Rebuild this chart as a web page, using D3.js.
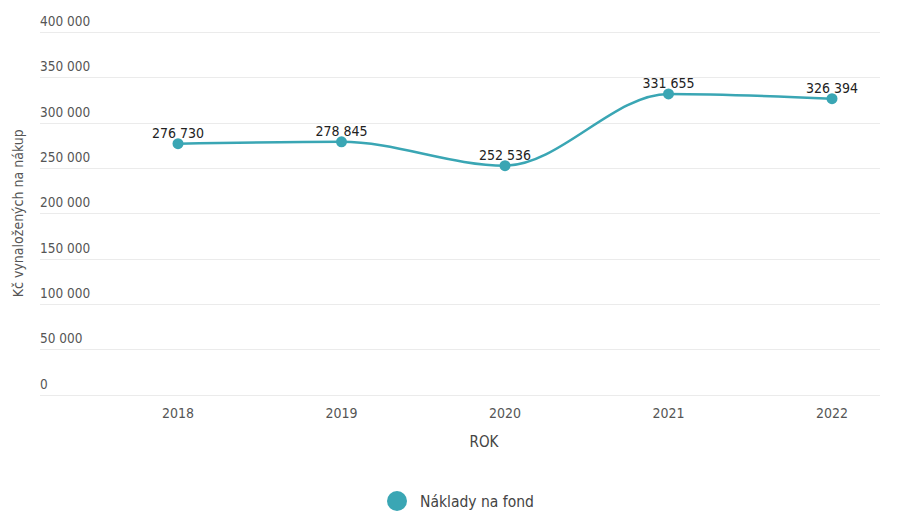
<!DOCTYPE html>
<html>
<head>
<meta charset="utf-8">
<script src="https://cdn.jsdelivr.net/npm/d3@7"></script>
<style>
  body { margin: 0; background: #fff; }
  svg text { font-family: "Liberation Sans Narrow", "DejaVu Sans Condensed", "Roboto", sans-serif; }
</style>
</head>
<body>
<div id="chart"></div>
<script>
// data
const years = ["2018", "2019", "2020", "2021", "2022"];
const costs = [276730, 278845, 252536, 331655, 326394];
const yTicks = [0, 50000, 100000, 150000, 200000, 250000, 300000, 350000, 400000];
const seriesName = "Náklady na fond";

const width = 906, height = 511;
const color = "#3aa6b4";

const locale = d3.formatLocale({ decimal: ",", thousands: " ", grouping: [3], currency: ["", " Kč"] });
const fmt = locale.format(",d");

const svg = d3.select("#chart").append("svg")
  .attr("width", width)
  .attr("height", height);

const x = d3.scalePoint()
  .domain(years)
  .range([178, 832]);

const y = d3.scaleLinear()
  .domain([0, 400000])
  .range([394.5, 32]);

// gridlines + tick labels
const grid = svg.append("g");
grid.selectAll("line")
  .data(yTicks)
  .enter()
  .append("line")
  .attr("x1", 40)
  .attr("x2", 880)
  .attr("y1", (d) => Math.round(y(d)) + 0.5)
  .attr("y2", (d) => Math.round(y(d)) + 0.5)
  .attr("stroke", "#ebebeb")
  .attr("stroke-width", 1);

grid.selectAll("text")
  .data(yTicks)
  .enter()
  .append("text")
  .attr("x", 40)
  .attr("y", (d) => y(d) - 6)
  .attr("font-size", 13.5)
  .attr("fill", "#555")
  .text((d) => fmt(d));

// x axis labels
svg.append("g")
  .selectAll("text")
  .data(years)
  .enter()
  .append("text")
  .attr("x", (d) => x(d))
  .attr("y", 418)
  .attr("text-anchor", "middle")
  .attr("font-size", 14)
  .attr("fill", "#555")
  .text((d) => d);

svg.append("text")
  .attr("x", 484)
  .attr("y", 447)
  .attr("text-anchor", "middle")
  .attr("font-size", 15)
  .attr("fill", "#444")
  .text("ROK");

svg.append("text")
  .attr("transform", `translate(23,${y(200000)}) rotate(-90)`)
  .attr("text-anchor", "middle")
  .attr("font-size", 14)
  .attr("fill", "#555")
  .text("Kč vynaložených na nákup");

// line
const pts = years.map((yr, i) => ({ year: yr, value: costs[i] }));

const line = d3.line()
  .x((d) => x(d.year))
  .y((d) => y(d.value))
  .curve(d3.curveMonotoneX);

svg.append("path")
  .datum(pts)
  .attr("d", line)
  .attr("fill", "none")
  .attr("stroke", color)
  .attr("stroke-width", 2.5);

svg.append("g")
  .selectAll("circle")
  .data(pts)
  .enter()
  .append("circle")
  .attr("cx", (d) => x(d.year))
  .attr("cy", (d) => y(d.value))
  .attr("r", 5.5)
  .attr("fill", color);

svg.append("g")
  .selectAll("text")
  .data(pts)
  .enter()
  .append("text")
  .attr("x", (d) => x(d.year))
  .attr("y", (d) => y(d.value) - 6)
  .attr("text-anchor", "middle")
  .attr("font-size", 14)
  .attr("fill", "#222")
  .text((d) => fmt(d.value));

// legend
const legend = svg.append("g");
legend.append("circle")
  .attr("cx", 397)
  .attr("cy", 501)
  .attr("r", 10)
  .attr("fill", color);
legend.append("text")
  .attr("x", 420)
  .attr("y", 507)
  .attr("font-size", 15.5)
  .attr("fill", "#444")
  .text(seriesName);
</script>
</body>
</html>
